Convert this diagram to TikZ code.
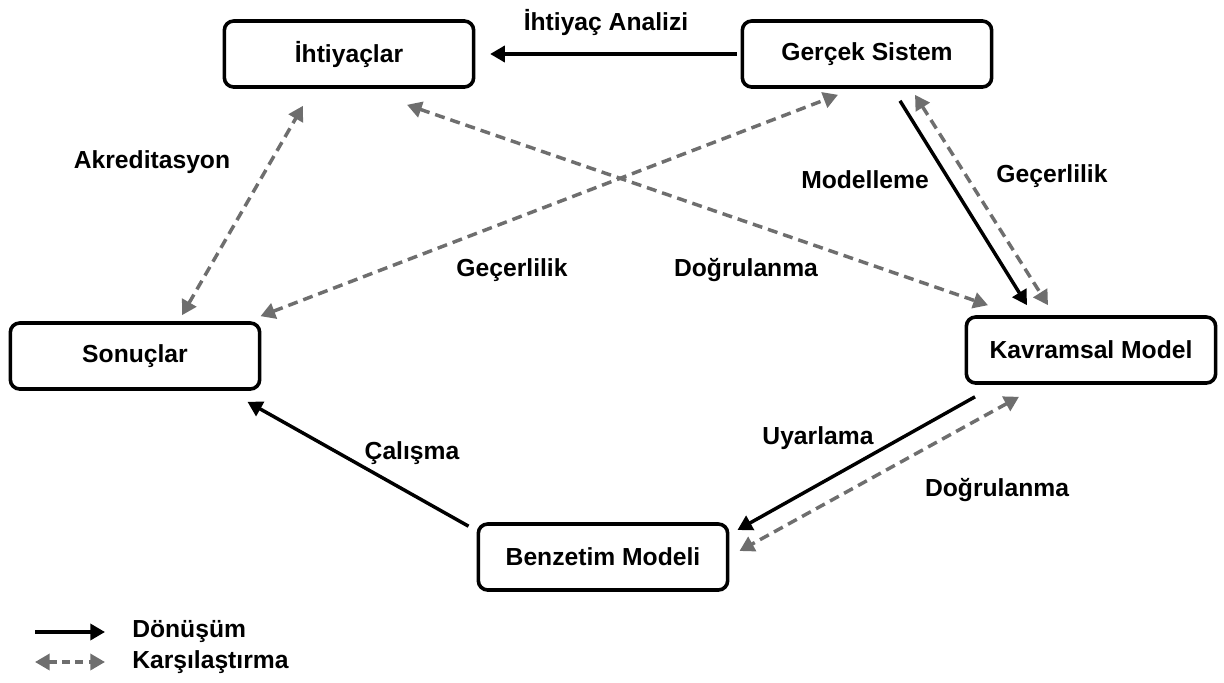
\documentclass[tikz,border=0pt]{standalone}
\usepackage{fontspec}
\setmainfont{Liberation Sans}
\usetikzlibrary{arrows.meta,calc}
\definecolor{cmpgray}{HTML}{6E6E6E}
\begin{document}
\begin{tikzpicture}[x=0.75pt,y=-0.75pt,
  font=\fontsize{18.5}{22}\selectfont\bfseries,
  box/.style={draw, line width=2.7pt, rounded corners=7pt, minimum width=187pt, minimum height=49.5pt, inner sep=0pt},
  lbl/.style={inner sep=0pt},
  trans/.style={line width=2.6pt, -{Triangle[length=11pt,width=12pt]}},
  cmp/.style={line width=2.6pt, cmpgray, dash pattern=on 7.5pt off 4.5pt, {Triangle[length=11pt,width=12pt]}-{Triangle[length=11pt,width=12pt]}}]
\useasboundingbox (0,0) rectangle (1224,682);

% boxes
\node[box] (I) at (349,54) {İhtiyaçlar};
\node[box] (G) at (867,54) {Gerçek Sistem};
\node[box] (S) at (135,356) {Sonuçlar};
\node[box] (K) at (1091,350) {Kavramsal Model};
\node[box] (B) at (603,557) {Benzetim Modeli};

% connectors
\draw[trans] ([xshift=-3]G.west) -- ([xshift=11]I.east);
\draw[cmp] ([shift={(47,-6)}]S.north) -- ([shift={(-46,17)}]I.south);
\draw[cmp] ([shift={(58,16)}]I.south) -- ([shift={(-103,-10)}]K.north);
\draw[cmp] ([shift={(-1,-5)}]S.north east) -- ([shift={(-29,6)}]G.south);
\draw[trans] ([shift={(33,12)}]G.south) -- ([shift={(-64,-10)}]K.north);
\draw[cmp] ([shift={(48,6)}]G.south) -- ([shift={(-43,-10)}]K.north);
\draw[trans] ([shift={(-116,12)}]K.south) -- ([shift={(8,-27)}]B.east);
\draw[cmp] ([shift={(-72,12)}]K.south) -- ([shift={(10,-6)}]B.east);
\draw[trans] ([shift={(-8,4)}]B.north west) -- ([shift={(-14,11)}]S.south east);

% connector labels
\node[lbl] (lA) at (606,22) {İhtiyaç Analizi};
\node[lbl] (lB) at (152,162) {Akreditasyon};
\node[lbl] (lC) at (512,270) {Geçerlilik};
\node[lbl] (lD) at (746,270) {Doğrulanma};
\node[lbl] (lE) at (865,180) {Modelleme};
\node[lbl] (lF) at (1052,176) {Geçerlilik};
\node[lbl] (lG) at (818,438) {Uyarlama};
\node[lbl] (lH) at (997,490) {Doğrulanma};
\node[lbl] (lI) at (412,453) {Çalışma};

% legend
\coordinate (t0) at (35,632);
\coordinate (t1) at (105,632);
\coordinate (c0) at (35,662);
\coordinate (c1) at (105,662);
\draw[trans] (t0) -- (t1);
\draw[cmp, dash pattern=on 6pt off 4pt] (c0) -- (c1);
\node[lbl, anchor=west] (lT) at (132,632) {Dönüşüm};
\node[lbl, anchor=west] (lK) at (132,662) {Karşılaştırma};
\end{tikzpicture}
\end{document}
